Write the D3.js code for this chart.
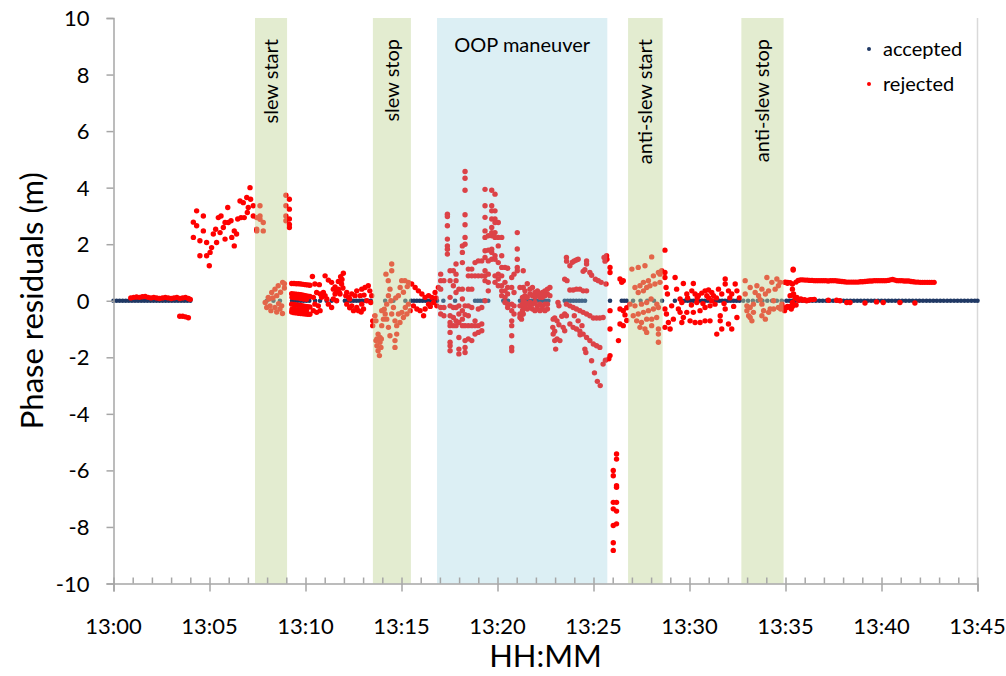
<!DOCTYPE html>
<html>
<head>
<meta charset="utf-8">
<script src="https://cdn.jsdelivr.net/npm/d3@7"></script>
<style>
  html, body { margin: 0; padding: 0; background: #fff; overflow: hidden; }
  svg { display: block; }
  text { font-family: Lato, "Open Sans", sans-serif; fill: #000; }
</style>
</head>
<body>
<div id="chart"></div>
<script>
// minutes after 13:00 -> residual (m)
const xTickLabels = ["13:00","13:05","13:10","13:15","13:20","13:25","13:30","13:35","13:40","13:45"];
const yTickLabels = ["-10","-8","-6","-4","-2","0","2","4","6","8","10"];

// shaded events: [start, end] in minutes
const eventNames = ["slew start","slew stop","OOP maneuver","anti-slew start","anti-slew stop"];
const eventSpans = [[7.37,9.04],[13.51,15.49],[16.85,25.72],[26.8,28.6],[32.7,34.9]];
const eventKinds = ["slew","slew","oop","slew","slew"];

// accepted points all sit on 0
const acceptedTimes = [0,0.16,0.32,0.48,0.64,0.8,0.96,1.12,1.28,1.44,1.6,1.76,1.92,2.08,2.24,2.4,2.56,2.72,2.88,3.04,3.2,3.36,3.52,3.68,3.84,4.0,
  7.98,8.33,8.67,
  9.3,9.45,9.6,9.75,9.9,10.05,10.2,10.5,10.76,11.1,11.36,11.63,
  12.05,12.2,12.35,12.5,12.65,12.8,12.95,13.1,13.25,13.4,
  14.15,14.58,15.2,
  15.5,15.65,15.8,15.95,16.1,16.25,16.4,16.55,16.7,16.85,
  17.18,17.79,18.83,18.97,19.1,19.24,19.52,20.3,20.42,20.55,
  21.17,21.3,21.45,21.6,21.75,21.9,22.05,22.2,22.35,22.5,22.65,
  23.5,23.65,23.8,23.95,24.1,24.25,24.4,24.56,
  25.86,26.47,26.6,26.73,
  27.06,27.45,27.8,28.15,28.57,
  29.24,29.6,29.75,29.9,30.05,30.2,30.35,30.5,30.65,30.8,30.95,31.1,31.25,31.4,31.55,31.7,31.85,32.0,32.15,32.3,32.45,32.6,
  32.8,33.05,33.3,33.55,33.8,34.05,34.3,34.55,34.8,35.05,35.2,35.35,
  35.5,35.68,35.86,36.04,36.22,36.4,36.58,36.76,36.94,37.12,37.3,37.48,37.66,37.84,38.02,38.2,38.38,38.56,38.74,38.92,
  39.1,39.28,39.46,39.64,39.82,40.0,40.18,40.36,40.54,40.72,40.9,41.08,41.26,41.44,41.62,41.8,41.98,42.16,42.34,42.52,
  42.7,42.88,43.06,43.24,43.42,43.6,43.78,43.96,44.14,44.32,44.5,44.68,44.86,45.0];
const acceptedValue = 0;

const rejStart = [[0.9,.1],[1.05,.12],[1.2,.13],[1.35,.12],[1.5,.14],[1.65,.15],[1.8,.12],[1.95,.1],[2.1,.12],[2.25,.1],[2.4,.08],
  [2.55,.1],[2.7,.12],[2.85,.1],[3.0,.08],[3.15,.1],[3.3,.12],[3.45,.08],[3.6,.1],[3.75,.12],[3.9,.08],[4.0,.05],
  [3.45,-.55],[3.6,-.55],[3.75,-.57],[3.9,-.6]];

const rejClimb = [[4.16,2.78],[4.16,2.24],[4.33,3.18],[4.33,2.65],[4.5,2.12],[4.5,1.59],[4.68,3.0],[4.68,2.47],[4.85,2.06],[4.85,1.59],
  [4.99,1.24],[5.03,1.71],[5.11,1.88],[5.2,2.36],[5.32,2.53],[5.37,2.06],[5.46,2.94],[5.6,3.0],[5.55,2.41],[5.72,2.59],
  [5.81,2.77],[5.81,2.18],[5.95,3.3],[5.98,2.77],[6.12,2.83],[6.16,2.24],[6.29,2.47],[6.29,1.94],[6.41,2.36],[6.47,2.89],
  [6.59,3.53],[6.64,2.94],[6.76,3.47],[6.81,2.94],[6.94,3.65],[6.97,3.12],[7.02,3.3],[7.11,4.0],[7.14,3.59],[7.28,3.36],[7.28,3.0],
  [7.46,2.94],[7.46,2.53],[7.63,3.36],[7.63,3.0],[7.8,2.77],[7.8,2.47],[7.46,2.47],[7.63,2.88],
  [8.98,3.73],[9.16,3.59],[8.98,3.36],[9.16,3.24],[8.98,3.0],[9.16,2.89],[8.98,2.83],[9.16,2.59],[9.16,2.7]];

const rejSlewStart = [[8.06,.12],[8.24,.29],[8.41,.41],[8.58,.53],[8.81,.65],[8.15,-.18],[8.41,-.24],[8.67,-.29],[7.98,-.24],[8.76,-.18],
  [7.9,-.06],[8.1,.06],[8.3,.1],[8.5,.18],[8.7,.3],[8.9,.45],[8.2,-.35],[8.5,-.4],[8.8,-.45],[8.9,.6],[8.6,-.1]];

const rejMid1 = [[9.28,.61],[9.4,.61],[9.52,.6],[9.64,.6],[9.76,.59],[9.88,.58],[10.0,.57],[10.12,.56],[10.23,.55],
  [9.28,.25],[9.4,.24],[9.52,.23],[9.64,.22],[9.76,.21],[9.88,.2],[10.0,.18],[10.12,.16],[10.23,.15],
  [9.3,.12],[9.45,.11],[9.6,.1],[9.75,.08],[9.9,.06],[10.05,.05],
  [9.28,-.12],[9.4,-.13],[9.52,-.15],[9.64,-.16],[9.76,-.17],[9.88,-.18],[10.0,-.2],[10.12,-.21],[10.23,-.22],
  [9.3,-.3],[9.45,-.31],[9.6,-.32],[9.75,-.33],[9.9,-.33],[10.05,-.34],
  [9.28,-.4],[9.4,-.42],[9.52,-.43],[9.64,-.44],[9.76,-.45],[9.88,-.46],[10.0,-.47],[10.12,-.48],[10.23,-.48],
  [10.36,.86],[10.49,.59],[10.72,.57],[11.02,.88],[11.19,.73],[11.36,.65],[11.54,.49],[11.71,.68],[11.83,.85],[11.97,.97],
  [11.88,.59],[11.62,.35],[11.45,.41],[10.41,-.35],[10.58,-.41],[10.76,-.35],[10.67,-.18],[10.49,-.12],[10.84,.12],[11.02,.18],
  [11.19,-.12],[11.36,-.24],[11.45,.06],[11.62,0],[11.54,.24],[11.8,.24],[11.71,.41],[11.76,.29],[10.58,.29],[10.76,.24],
  [10.93,.29],[10.41,.12],[11.11,.06],[11.9,.75],[11.95,.45],
  [12.15,.29],[12.41,.24],[12.67,.35],[12.93,.41],[13.1,.47],[13.27,.53],[12.15,-.12],[12.41,-.18],[12.67,-.24],[12.93,-.12],
  [13.19,0],[12.24,.12],[12.58,.18],[12.76,-.35],[13.02,-.29],[12.5,-.35],[13.45,.18],[12.1,.18],[12.3,.06],[12.85,.18],
  [13.05,.2],[13.35,.35],[13.4,-.06],[12.3,-.25],[12.9,-.4]];

const rejSlewStop = [[13.5,-.71],[13.5,-.88],[13.62,-.53],[13.67,-.71],[13.67,-1.41],[13.72,-1.59],[13.78,-1.77],[13.85,-1.94],
  [13.88,-1.47],[13.93,-1.65],[13.78,-1.18],[13.72,-1.35],[13.97,-.88],[14.06,-.65],[13.97,-.35],[14.15,-.47],[14.23,-.12],
  [14.32,.18],[14.4,.41],[14.31,.71],[14.19,.94],[14.49,1.3],[14.49,1.06],[14.23,-.65],[14.32,-.94],[14.4,-1.24],[14.66,-1.65],
  [14.66,-1.41],[14.75,-1.18],[14.66,-.71],[14.49,-.47],[14.58,-.24],[14.84,.18],[14.93,.47],[15.01,.71],[15.18,.71],[15.36,.65],
  [14.75,-.88],[14.92,-.77],[15.1,-.59],[15.28,-.47],[15.45,-.35],[15.02,-.41],[15.2,-.24],[15.36,-.12],[14.84,-.47],
  [13.88,-1.3],[13.95,-1.35],[14.1,-.3],[14.45,.0],[14.7,.1],[15.1,.3],[15.3,.5]];

const rejMid2 = [[15.53,.59],[15.71,.47],[15.88,.35],[16.06,.24],[16.23,.12],[15.62,-.18],[15.8,-.29],[15.97,-.35],[16.15,-.53],
  [16.23,-.29],[16.41,-.12],[16.58,.12],[16.75,.29],[16.92,.47],[16.84,-.18],[16.67,-.06],[16.41,.18],[16.5,-.2],[16.8,.1]];

const rejOOP = [[17.04,.94],[17.04,.71],[17.04,.41],[17.04,-.24],[17.04,-.47],
  [17.21,.71],[17.21,-.24],[17.21,-.53],
  [17.39,3.06],[17.39,2.98],[17.39,2.65],[17.39,2.18],[17.39,1.94],[17.39,1.82],[17.39,1.65],
  [17.53,1.06],[17.53,.71],[17.53,.12],[17.53,-.18],[17.53,-.53],[17.53,-.77],[17.53,-.88],[17.53,-1.12],[17.53,-1.47],[17.53,-1.59],[17.53,-1.77],
  [17.7,1.06],[17.7,.53],[17.7,-.24],[17.7,-.59],[17.7,-.88],
  [17.84,1.3],[17.84,.94],[17.84,.71],[17.84,.29],[17.84,-.24],[17.84,-.71],[17.84,-.88],
  [17.99,.41],[17.99,-.18],[17.99,-.47],[17.99,-.77],[17.99,-1.3],[17.99,-1.71],[17.99,-1.88],
  [18.17,1.94],[18.17,1.71],[18.17,1.35],[18.17,.41],[18.17,.06],[18.17,-.35],[18.17,-.65],[18.17,-.88],
  [18.31,4.57],[18.31,4.33],[18.31,3.91],[18.31,3.04],[18.31,2.69],[18.31,2.24],[18.31,2.0],[18.31,-.18],[18.31,-.49],[18.31,-.88],[18.31,-1.41],[18.31,-1.65],[18.31,-1.83],
  [18.48,1.12],[18.48,.88],[18.48,.41],[18.48,-.18],[18.48,-.53],[18.48,-.88],[18.48,-1.35],
  [18.66,1.12],[18.66,.88],[18.66,.41],[18.66,-.24],[18.66,-.88],[18.66,-1.41],
  [18.83,1.35],[18.83,.88],[18.83,-.71],[18.83,-.88],[18.83,-1.18],
  [19.0,1.41],[19.0,.88],[19.0,-.29],[19.0,-.88],[19.0,-1.12],
  [19.18,1.41],[19.18,.88],[19.18,-.24],[19.18,-.82],[19.18,-1.06],
  [19.35,3.94],[19.35,3.36],[19.35,2.95],[19.35,2.47],[19.35,2.24],[19.35,1.77],[19.35,1.53],[19.35,1.06],[19.35,.88],[19.35,.71],[19.35,0],
  [19.52,2.3],[19.52,1.79],[19.52,1.41],[19.52,.94],[19.52,.65],[19.52,.35],
  [19.7,3.91],[19.7,3.36],[19.7,3.18],[19.7,2.89],[19.7,2.59],[19.7,2.41],[19.7,2.3],[19.7,1.82],[19.7,1.71],[19.7,1.47],
  [19.87,3.77],[19.87,3.18],[19.87,2.89],[19.87,2.77],[19.87,2.41],[19.87,2.24],[19.87,1.59],[19.87,1.47],[19.87,.88],[19.87,.65],
  [20.04,2.77],[20.04,2.24],[20.04,1.94],[20.04,1.35],[20.04,.94],[20.04,.77],[20.04,.53],
  [20.22,2.24],[20.22,1.59],[20.22,1.18],[20.22,.88],[20.22,.53],[20.22,.35],[20.22,.18],
  [20.39,1.18],[20.39,.65],[20.39,.35],[20.39,.12],[20.39,-.06],
  [20.53,1.15],[20.53,.47],[20.53,.24],[20.53,-.12],[20.53,-.24],
  [20.74,.82],[20.74,.47],[20.74,-.12],[20.74,-.35],[20.74,-.71],[20.74,-.88],[20.74,-1.24],[20.74,-1.65],[20.74,-1.77],
  [20.86,.94],[20.86,.29],[20.86,-.18],[20.86,-.47],
  [21.03,2.41],[21.03,1.83],[21.03,1.47],[21.03,1.18],[21.03,1.06],
  [21.17,.47],[21.17,-.18],[21.17,-.47],[21.17,-.59],
  [21.34,1.06],[21.34,.47],[21.34,.12],[21.34,0],[21.34,-.12],[21.34,-.24],[21.34,-.47],
  [21.43,.35],[21.55,.6],[21.69,.41],[21.82,.47],[21.95,.29],[22.08,.35],[22.21,.24],[22.34,.29],[22.47,.35],[22.6,.41],[22.73,.47],
  [21.3,.12],[21.43,.18],[21.55,.12],[21.69,.24],[21.82,.18],[21.95,.12],[22.08,.18],[22.21,.12],[22.34,.12],[22.47,.18],[22.6,.24],[22.73,.18],
  [21.3,-.12],[21.43,-.06],[21.55,-.12],[21.69,-.06],[21.82,-.12],[21.95,-.06],[22.08,-.18],[22.21,-.12],[22.34,-.18],[22.47,-.12],[22.6,-.12],
  [21.3,-.35],[21.43,-.24],[21.55,-.29],[21.69,-.24],[21.82,-.29],[21.95,-.35],[22.08,-.29],[22.21,-.35],[22.34,-.29],[22.47,-.35],[22.6,-.29],
  [21.2,-.53],[21.25,-.65],[21.3,-.47],
  [22.9,-.65],[22.98,-.61],[23.1,-.71],[23.2,-.85],[22.88,-.94],[22.98,-1.08],[22.9,-1.18],[22.98,-1.41],[23.1,-1.35],[23.25,-1.41],
  [23.03,-1.71],[23.42,-.94],[23.5,-1.06],[23.35,-.55],[23.5,-.47],[23.15,-.06],[23.2,-.18],
  [23.5,.76],[23.59,1.53],[23.6,1.4],[23.77,1.24],[23.9,1.36],[24.0,1.41],[24.11,1.44],[24.2,1.47],[24.64,1.41],[24.64,1.3],
  [24.46,1.04],[24.55,1.1],[24.81,1.0],[24.9,.9],[23.62,.71],[23.77,.38],[23.94,.38],[24.11,.41],[24.29,.41],[24.46,.35],[24.64,.35],
  [25.1,.76],[25.25,.71],[25.4,.65],[25.55,1.53],[25.6,1.4],[25.65,.59],[25.68,1.59],[25.7,1.47],
  [23.59,-.12],[23.77,-.18],[23.94,-.24],[24.11,-.29],[24.29,-.35],[24.46,-.41],[24.64,-.47],[24.81,-.53],[24.99,-.61],[25.16,-.61],[25.33,-.61],[25.5,-.59],
  [23.59,-.53],[23.77,-.82],[23.94,-.94],[24.11,-1.0],[24.29,-1.08],[24.46,-1.18],[24.64,-1.3],[24.81,-1.41],[24.99,-1.53],[25.16,-1.59],[25.33,-1.65],
  [24.55,-1.71],[24.6,-1.83],[24.9,-2.12],[25.05,-2.55],[25.2,-2.85],[25.35,-3.0],[25.5,-2.24],[25.62,-2.1],
  [24.2,-.71],[24.0,-.53],[24.4,-.88],[24.3,-1.2]];

const rejDrop = [[25.86,1.18],[25.86,1.0],[25.86,-.35],[25.86,-1.0],[25.86,-1.94],[25.8,-2.05],
  [26.2,-5.42],[26.2,-5.6],[26.03,-6.0],[26.03,-6.19],[26.2,-6.54],[26.2,-6.6],[26.03,-7.13],[26.2,-7.13],
  [26.03,-7.36],[26.2,-7.44],[26.03,-7.95],[26.2,-7.89],[26.03,-8.56],[26.03,-8.83]];

const rejAntiStart = [[26.38,.77],[26.47,.65],[26.55,.71],[26.38,-.29],[26.55,-.35],[26.38,-.82],[26.55,-.88],[26.3,-1.41],[26.64,-.5],[26.73,-.7],[26.73,-.25],
  [27.0,1.12],[27.33,1.18],[27.68,1.24],[28.03,1.55],[28.55,1.06],[28.46,.94],
  [27.16,.47],[27.42,.53],[27.6,.65],[27.86,.71],[28.12,.88],[28.38,1.0],
  [27.33,.29],[27.6,.35],[27.77,.47],[27.94,.53],[28.2,.59],[28.46,.65],
  [26.9,-.12],[27.16,-.18],[27.5,-.12],[27.77,-.06],[28.0,.06],[28.3,-.12],
  [27.07,-.53],[27.33,-.47],[27.6,-.41],[27.86,-.35],[28.12,-.29],[28.38,-.24],
  [27.25,-.71],[27.5,-.77],[27.77,-.65],[28.03,-.65],[28.29,-.59],
  [27.42,-.94],[27.68,-1.0],[28.03,-.88],[28.38,-1.0],[27.77,-1.12],[28.38,-1.18],[28.38,-1.47]];

const rejMid3 = [[28.72,1.79],[28.72,1.0],[28.72,.82],[28.78,.47],[28.85,.24],[28.72,-.29],[28.8,-.47],[28.9,-.77],[28.99,-1.0],[28.72,-.94],
  [29.25,.82],[29.33,.41],[29.51,-.41],[29.6,-.77],[29.42,-.29],[29.07,-.18],[29.16,-.65],
  [29.68,.61],[29.86,.24],[30.12,.35],[30.2,.61],[30.29,.24],[30.46,.18],[30.64,.27],[30.81,.35],[30.99,.38],[31.16,.29],[30.9,.18],[31.25,.18],
  [29.86,-.41],[30.2,-.41],[30.55,-.35],[30.81,-.24],[31.07,-.18],[30.55,-.77],[30.81,-.71],[31.07,-.71],[30.29,-.77],[30.03,-.71],
  [29.68,-.59],[29.6,-.06],[31.42,-1.18],[31.68,-1.0],[31.33,-.12],[31.51,.41],[31.68,.24],[31.86,.77],[31.86,.59],[32.03,.35],
  [32.2,.24],[32.38,.59],[32.47,.35],[31.6,-.53],[31.86,-.29],[32.03,-.82],[32.2,-1.0],[32.47,-.59],[31.6,-.71],[29.51,.06],
  [30.38,-.06],[31.16,0],[29.9,.1],[30.1,-.15],[30.4,.1],[30.7,-.1],[31.0,.1],[31.4,.1],[31.8,-.1],[32.1,.1],[32.3,-.2],[32.6,.1]];

const rejAntiStop = [[32.9,.71],[33.16,.47],[33.42,.29],[33.51,.53],[33.77,.41],[34.03,.82],[34.29,.65],[34.55,.77],[34.72,.65],
  [32.9,.24],[32.99,-.35],[33.16,-.59],[33.16,-.24],[33.33,-.12],[33.6,.18],[33.86,-.35],[33.95,-.65],[34.2,-.29],[34.38,0],
  [34.63,-.24],[34.81,-.12],[32.99,-.18],[33.25,-.71],[33.08,-.53],[33.68,.04],[33.95,.24],[34.12,.35],[34.46,.41],[34.63,.53],
  [33.33,-.41],[33.77,-.53],[34.12,-.41],[34.38,-.29],[33.77,-.12],
  [34.95,.65],[35.1,.62],[35.4,1.12],[35.24,.18],[35.42,.24],[35.59,.12],[35.07,-.24],[35.3,-.18],[35.55,-.15],[34.95,-.35]];

const rejTail = [[35.0,.66],[35.12,.65],[35.24,.64],[35.55,.66],[35.66,.72],[35.78,.74],[35.9,.74],[36.02,.73],[36.14,.73],[36.26,.72],
  [36.38,.72],[36.5,.71],[36.62,.71],[36.74,.71],[36.86,.71],[36.98,.71],[37.1,.71],[37.22,.7],[37.34,.71],[37.46,.71],
  [37.58,.71],[37.7,.7],[37.82,.69],[37.94,.68],[38.06,.67],[38.18,.66],[38.3,.66],[38.42,.66],[38.54,.66],[38.66,.66],
  [38.78,.66],[38.9,.67],[39.02,.67],[39.14,.68],[39.26,.69],[39.38,.7],[39.5,.7],[39.62,.71],[39.74,.71],[39.86,.71],
  [39.98,.71],[40.1,.71],[40.22,.71],[40.34,.72],[40.46,.74],[40.58,.75],[40.7,.73],[40.82,.71],[40.94,.71],[41.06,.71],
  [41.18,.7],[41.3,.7],[41.42,.7],[41.54,.68],[41.66,.67],[41.78,.66],[41.9,.66],[42.02,.65],[42.14,.65],[42.26,.65],
  [42.38,.65],[42.5,.65],[42.62,.65],[42.74,.65],
  [35.4,1.09],[35.36,.59],[35.36,.41],[35.36,.2],[35.36,-.06],[35.36,-.2],[35.3,-.29],
  [34.75,-.29],[34.9,-.25],[35.1,-.2],[35.2,-.22],
  [35.5,.1],[35.6,.06],[35.7,.02],[35.8,.06],[35.9,.02],[36.0,.04],[36.1,0],[36.2,.02],[36.3,.04],[36.4,.04],[36.5,.05],
  [37.23,.02],[37.66,.02],[37.84,0],[38.19,-.06],[38.36,-.06],[39.14,-.08],[39.74,-.04],[40.09,-.06],[40.96,-.06],[41.74,-.08]];

const rejected = [].concat(rejStart, rejClimb, rejSlewStart, rejMid1, rejSlewStop, rejMid2, rejOOP, rejDrop,
                           rejAntiStart, rejMid3, rejAntiStop, rejTail);

const width = 1006;
const height = 676;
const margin = {top : 18 , right : 28.5 , bottom : 92.5 , left : 113.5};
const innerWidth = width - margin.left - margin.right;
const innerHeight = height - margin.top - margin.bottom;

// scales map straight to page pixels so every text sits at absolute coords
const xScale = d3.scaleLinear().domain([0, 45]).range([margin.left, width - margin.right]);
const yScale = d3.scaleLinear().domain([-10, 10]).range([height - margin.bottom, margin.top]);

const svg = d3.select("#chart")
                .append("svg")
                    .attr("width" , width)
                    .attr("height" , height);

// right frame line
svg.append("line")
    .attr("x1", xScale(45)).attr("x2", xScale(45))
    .attr("y1", yScale(10)).attr("y2", yScale(-10))
    .attr("stroke", "#d9d9d9").attr("stroke-width", 1.5);

// points
svg.append("g").selectAll("circle")
    .data(acceptedTimes)
    .enter()
        .append("circle")
            .attr("cx", d=>xScale(d))
            .attr("cy", yScale(acceptedValue))
            .attr("r", 2.3)
            .attr("fill", "#1f3864");

svg.append("g").selectAll("circle")
    .data(rejected)
    .enter()
        .append("circle")
            .attr("cx", d=>xScale(d[0]))
            .attr("cy", d=>yScale(d[1]))
            .attr("r", 2.7)
            .attr("fill", "#ff0000");

// event shading drawn over the points
const events = eventNames.map((n, i)=>({name : n, s : eventSpans[i][0], e : eventSpans[i][1], kind : eventKinds[i]}));

svg.append("g").selectAll("rect")
    .data(events)
    .enter()
        .append("rect")
            .attr("x", d=>xScale(d.s))
            .attr("width", d=>xScale(d.e) - xScale(d.s))
            .attr("y", yScale(10))
            .attr("height", yScale(-10) - yScale(10))
            .attr("fill", d=>d.kind == "oop" ? "#92cddc" : "#c4d79b")
            .attr("fill-opacity", d=>d.kind == "oop" ? 0.32 : 0.47);

events.forEach(d=>{
    const cx = xScale((d.s + d.e) / 2);
    if (d.kind == "oop") {
        svg.append("text")
            .text(d.name)
            .attr("x", cx)
            .attr("y", 52)
            .attr("text-anchor", "middle")
            .style("font-size", "20px");
    } else {
        svg.append("text")
            .text(d.name)
            .attr("x", -39)
            .attr("y", cx + 7)
            .attr("transform", "rotate(-90)")
            .attr("text-anchor", "end")
            .style("font-size", "20px");
    }
});

// axes: lines from d3.axis, labels placed by the same scales
const yAxis = svg.append("g")
    .attr("transform", `translate(${margin.left} , 0)`)
    .call(d3.axisLeft(yScale).tickValues(yTickLabels.map(Number)).tickFormat("").tickSize(7));

const majorTicks = xTickLabels.map((t, i)=>i * 5);
const minorTicks = d3.range(0, 46);

const xMinor = svg.append("g")
    .attr("transform", `translate(0 , ${yScale(-10)})`)
    .call(d3.axisTop(xScale).tickValues(minorTicks).tickFormat("").tickSize(6));

const xAxis = svg.append("g")
    .attr("transform", `translate(0 , ${yScale(-10)})`)
    .call(d3.axisBottom(xScale).tickValues(majorTicks).tickFormat("").tickSize(8));

[yAxis, xAxis, xMinor].forEach(a=>{
    a.select(".domain").attr("stroke", "#a6a6a6").attr("stroke-width", 1.5);
    a.selectAll(".tick line").attr("stroke", "#a6a6a6").attr("stroke-width", 1.5);
});
xMinor.select(".domain").remove();

svg.append("g").selectAll("text")
    .data(yTickLabels)
    .enter()
        .append("text")
            .text(d=>d)
            .attr("x", margin.left - 24)
            .attr("y", d=>yScale(+d) + 8)
            .attr("text-anchor", "end")
            .style("font-size", "22px");

svg.append("g").selectAll("text")
    .data(xTickLabels)
    .enter()
        .append("text")
            .text(d=>d)
            .attr("x", (d, i)=>xScale(majorTicks[i]))
            .attr("y", yScale(-10) + 50)
            .attr("text-anchor", "middle")
            .style("font-size", "22px");

// axis titles
svg.append("text")
    .text("HH:MM")
    .attr("x", margin.left + innerWidth / 2)
    .attr("y", 667)
    .attr("text-anchor", "middle")
    .style("font-size", "31px");

svg.append("text")
    .text("Phase residuals (m)")
    .attr("x", -(margin.top + innerHeight / 2))
    .attr("y", 43)
    .attr("transform", "rotate(-90)")
    .attr("text-anchor", "middle")
    .style("font-size", "31px");

// legend
const legendNames = ["accepted", "rejected"];
const legendColors = ["#1f3864", "#ff0000"];
svg.append("g").selectAll("circle")
    .data(legendNames)
    .enter()
        .append("circle")
            .attr("cx", 869)
            .attr("cy", (d, i)=>49 + i * 35)
            .attr("r", 2)
            .attr("fill", (d, i)=>legendColors[i]);
svg.append("g").selectAll("text")
    .data(legendNames)
    .enter()
        .append("text")
            .text(d=>d)
            .attr("x", 883)
            .attr("y", (d, i)=>56 + i * 35)
            .style("font-size", "20px");
</script>
</body>
</html>
